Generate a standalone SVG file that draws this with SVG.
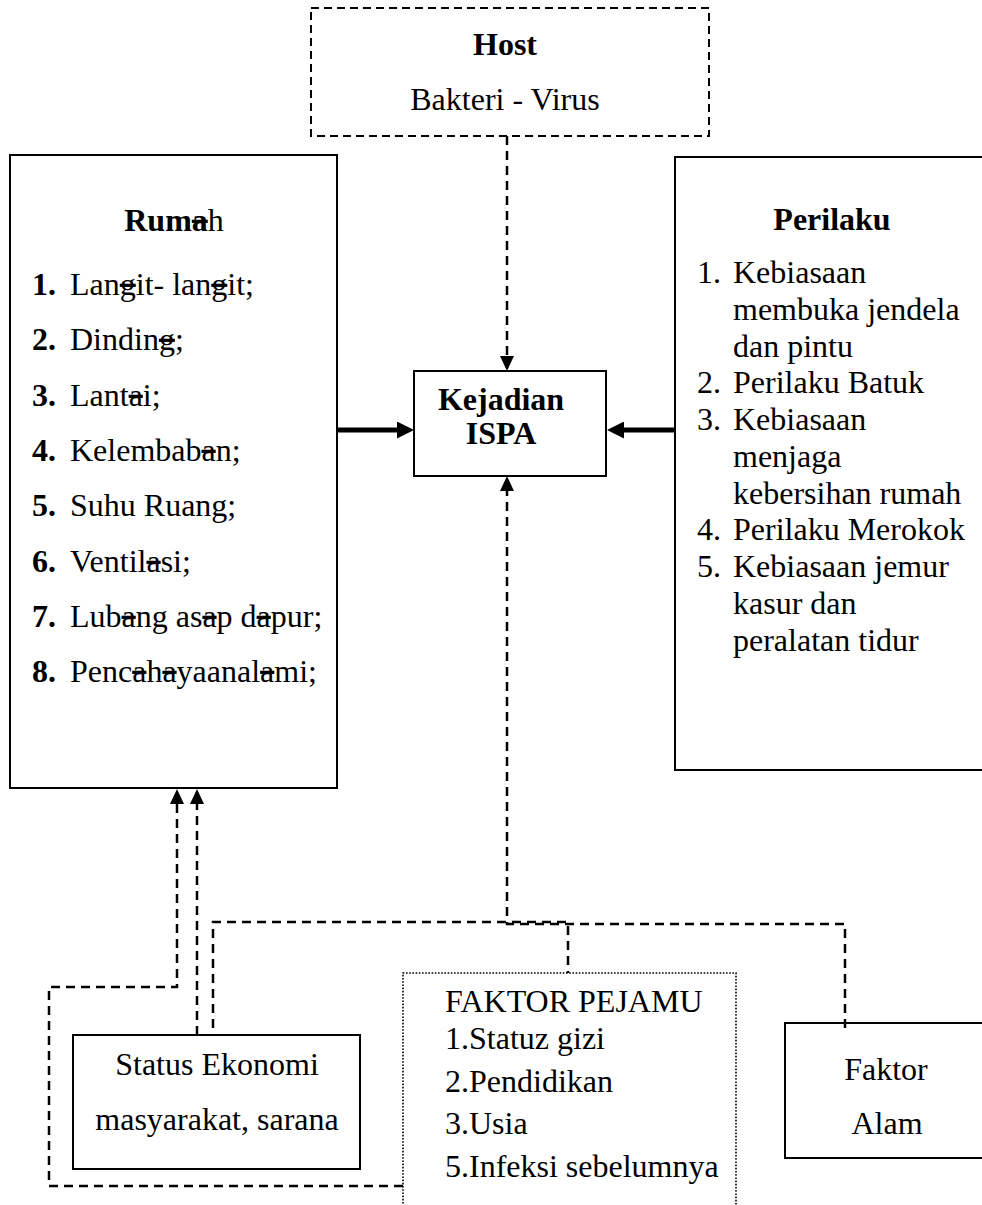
<svg xmlns="http://www.w3.org/2000/svg" width="982" height="1205" viewBox="0 0 982 1205">
<style>
.t{font-family:"Liberation Serif","Times New Roman",serif;font-size:32px;fill:#000}
.b{font-weight:bold}
.m{text-anchor:middle}
.s{text-decoration:line-through}
.box{fill:#fff;stroke:#000;stroke-width:2}
.open{fill:none;stroke:#000;stroke-width:2}
.hostbox{fill:none;stroke:#000;stroke-width:2;stroke-dasharray:8 5}
.dash{fill:none;stroke:#000;stroke-width:2.5;stroke-dasharray:9 6}
.dot{fill:none;stroke:#000;stroke-width:1.6;stroke-dasharray:1.6 1.6}
.thick{fill:none;stroke:#000;stroke-width:5}
</style>
<defs>
<marker id="ah" viewBox="0 0 15 14" refX="0" refY="7" markerWidth="15" markerHeight="14" markerUnits="userSpaceOnUse" orient="auto">
<path d="M0,0 L15,7 L0,14 z" fill="#000"/>
</marker>
<marker id="ahb" viewBox="0 0 17 17" refX="0" refY="8.5" markerWidth="17" markerHeight="17" markerUnits="userSpaceOnUse" orient="auto">
<path d="M0,0 L17,8.5 L0,17 z" fill="#000"/>
</marker>
</defs>
<rect width="982" height="1205" fill="#fff"/>

<g id="host">
<rect class="hostbox" x="311" y="8" width="398" height="128"/>
<text class="t b m" x="505" y="55">Host</text>
<text class="t m" x="505" y="110">Bakteri - Virus</text>
</g>

<g id="rumah">
<rect class="box" x="10" y="155" width="327" height="633"/>
<text class="t m" x="174" y="231"><tspan class="b">Rum</tspan><tspan class="b s">a</tspan><tspan>h</tspan></text>
<text class="t" y="295"><tspan class="b" x="32">1.</tspan><tspan x="70">Lan</tspan><tspan class="s">g</tspan><tspan>it- lan</tspan><tspan class="s">g</tspan><tspan>it;</tspan></text>
<text class="t" y="350"><tspan class="b" x="32">2.</tspan><tspan x="70">Dindin</tspan><tspan class="s">g</tspan><tspan>;</tspan></text>
<text class="t" y="406"><tspan class="b" x="32">3.</tspan><tspan x="70">Lant</tspan><tspan class="s">a</tspan><tspan>i;</tspan></text>
<text class="t" y="461"><tspan class="b" x="32">4.</tspan><tspan x="70">Kelembab</tspan><tspan class="s">a</tspan><tspan>n;</tspan></text>
<text class="t" y="516"><tspan class="b" x="32">5.</tspan><tspan x="70">Suhu Ruang;</tspan></text>
<text class="t" y="572"><tspan class="b" x="32">6.</tspan><tspan x="70">Ventil</tspan><tspan class="s">a</tspan><tspan>si;</tspan></text>
<text class="t" y="627"><tspan class="b" x="32">7.</tspan><tspan x="70">Lub</tspan><tspan class="s">a</tspan><tspan>ng as</tspan><tspan class="s">a</tspan><tspan>p d</tspan><tspan class="s">a</tspan><tspan>pur;</tspan></text>
<text class="t" y="682"><tspan class="b" x="32">8.</tspan><tspan x="70">Penc</tspan><tspan class="s">a</tspan><tspan>h</tspan><tspan class="s">a</tspan><tspan>yaanal</tspan><tspan class="s">a</tspan><tspan>mi;</tspan></text>
</g>

<g id="kejadian">
<rect class="box" x="414" y="371" width="192" height="105"/>
<text class="t b m" x="501" y="410">Kejadian</text>
<text class="t b m" x="501" y="444">ISPA</text>
</g>

<g id="perilaku">
<path class="open" d="M990,157 H675 V770 H990"/>
<text class="t b m" x="832" y="230">Perilaku</text>
<text class="t" x="697" y="283">1.</text><text class="t" x="733" y="283">Kebiasaan</text>
<text class="t" x="733" y="320">membuka jendela</text>
<text class="t" x="733" y="357">dan pintu</text>
<text class="t" x="697" y="393">2.</text><text class="t" x="733" y="393">Perilaku Batuk</text>
<text class="t" x="697" y="430">3.</text><text class="t" x="733" y="430">Kebiasaan</text>
<text class="t" x="733" y="467">menjaga</text>
<text class="t" x="733" y="504">kebersihan rumah</text>
<text class="t" x="697" y="540">4.</text><text class="t" x="733" y="540">Perilaku Merokok</text>
<text class="t" x="697" y="577">5.</text><text class="t" x="733" y="577">Kebiasaan jemur</text>
<text class="t" x="733" y="614">kasur dan</text>
<text class="t" x="733" y="651">peralatan tidur</text>
</g>

<g id="status-ekonomi">
<rect class="box" x="73" y="1035" width="287" height="134"/>
<text class="t m" x="217" y="1075">Status Ekonomi</text>
<text class="t m" x="217" y="1130">masyarakat, sarana</text>
</g>

<g id="faktor-pejamu">
<path class="dot" d="M403,1210 V973 H736 V1210"/>
<text class="t" x="445" y="1012">FAKTOR PEJAMU</text>
<text class="t" x="445" y="1049">1.Statuz gizi</text>
<text class="t" x="445" y="1092">2.Pendidikan</text>
<text class="t" x="445" y="1134">3.Usia</text>
<text class="t" x="445" y="1177">5.Infeksi sebelumnya</text>
</g>

<g id="faktor-alam">
<path class="open" d="M990,1023 H785 V1158 H990"/>
<text class="t m" x="886" y="1080">Faktor</text>
<text class="t m" x="887" y="1134">Alam</text>
</g>

<g id="connectors">
<line class="thick" x1="337" y1="430" x2="397" y2="430" marker-end="url(#ahb)"/>
<line class="thick" x1="675" y1="430" x2="624" y2="430" marker-end="url(#ahb)"/>
<line class="dash" x1="507" y1="136" x2="507" y2="356" marker-end="url(#ah)"/>
<path class="dash" d="M845,1028 V924 H507 V491" marker-end="url(#ah)"/>
<path class="dash" d="M213,1028 V922 H568 V973"/>
<path class="dash" d="M403,1186 H49 V987 H177 V804" marker-end="url(#ah)"/>
<line class="dash" x1="197" y1="1035" x2="197" y2="804" marker-end="url(#ah)"/>
</g>
</svg>
